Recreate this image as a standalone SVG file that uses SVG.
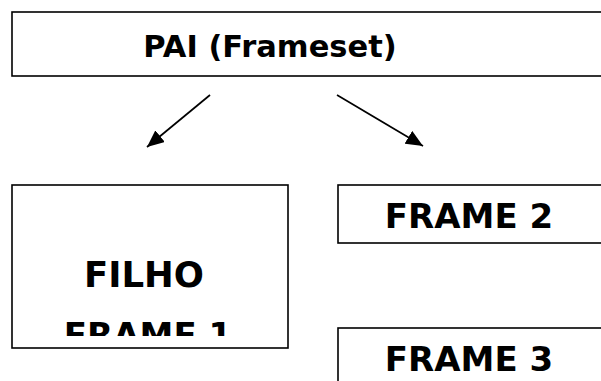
<svg xmlns="http://www.w3.org/2000/svg" width="601" height="381" viewBox="0 0 601 381">
<defs>
<style>
.box{fill:#fff;stroke:#000;stroke-width:1.6}
.t{font-family:"DejaVu Sans",Verdana,sans-serif;font-weight:bold;font-size:34px;fill:#000;text-anchor:middle}
.c{stroke:#000;stroke-width:1.7;fill:none}
</style>
<marker id="ah" viewBox="0 0 17 15" refX="17" refY="7.5" markerWidth="17" markerHeight="15" markerUnits="userSpaceOnUse" orient="auto">
<path d="M0,0 L17,7.5 L0,15 Z" fill="#000"/>
</marker>
<clipPath id="clip1"><rect x="12" y="185" width="276" height="151"/></clipPath>
</defs>
<rect width="601" height="381" fill="#fff"/>
<g id="pai">
<rect class="box" x="12" y="12" width="600" height="64"/>
<text class="t" x="270" y="57" style="font-size:30.5px">PAI (Frameset)</text>
</g>
<g id="filho">
<rect class="box" x="12" y="185" width="276" height="163"/>
<g clip-path="url(#clip1)">
<text class="t" x="144" y="287" style="font-size:35.5px">FILHO</text>
<text class="t" x="148" y="347">FRAME 1</text>
</g>
</g>
<g id="frame2">
<rect class="box" x="338" y="185" width="280" height="58"/>
<text class="t" x="469" y="228">FRAME 2</text>
</g>
<g id="frame3">
<rect class="box" x="338" y="328" width="280" height="70"/>
<text class="t" x="469" y="371">FRAME 3</text>
</g>
<g id="connectors">
<line class="c" x1="210" y1="95" x2="147" y2="147" marker-end="url(#ah)"/>
<line class="c" x1="337" y1="95" x2="423" y2="146" marker-end="url(#ah)"/>
</g>
</svg>
